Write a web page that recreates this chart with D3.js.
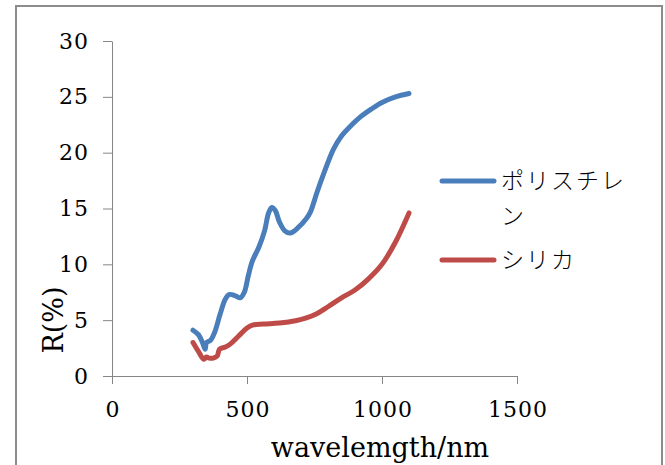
<!DOCTYPE html>
<html>
<head>
<meta charset="utf-8">
<script src="https://cdn.jsdelivr.net/npm/d3@7"></script>
<style>
    body { margin: 0; background: #fff; }
    .tick text { font-family: 'DejaVu Serif', serif; font-size: 22px; fill: #000; letter-spacing: 1px; }
    .axis path, .axis line { stroke: #868686; }
    .label { font-family: 'DejaVu Serif', serif; font-size: 27px; fill: #000; }
    .legend text { font-family: 'Noto Sans CJK JP', sans-serif; font-size: 23px; font-weight: 300; fill: #000; letter-spacing: 2px; }
</style>
</head>
<body>
<svg id="chart"></svg>
<script>
// Data.
const seriesNames = ['ポリスチレン', 'シリカ'];
const polystyreneX = [300, 320, 335, 345, 350, 365, 380, 400, 420, 435, 455, 475, 490, 505, 520, 545, 565, 580, 592, 605, 620, 640, 660, 690, 720, 735, 760, 790, 820, 850, 880, 920, 960, 1000, 1050, 1100];
const polystyreneY = [4.1, 3.7, 3.0, 2.4, 3.0, 3.2, 3.9, 5.5, 6.9, 7.3, 7.2, 7.0, 7.5, 9.0, 10.3, 11.6, 13.0, 14.6, 15.1, 14.8, 13.8, 13.0, 12.8, 13.3, 14.1, 14.7, 16.5, 18.5, 20.3, 21.5, 22.3, 23.2, 23.9, 24.5, 25.0, 25.3];
const silicaX = [300, 320, 340, 350, 360, 375, 390, 398, 420, 440, 470, 500, 520, 560, 620, 680, 720, 760, 800, 850, 900, 950, 1000, 1050, 1100];
const silicaY = [3.0, 2.2, 1.5, 1.7, 1.6, 1.6, 1.8, 2.4, 2.6, 2.9, 3.6, 4.3, 4.55, 4.65, 4.75, 4.95, 5.2, 5.6, 6.2, 7.0, 7.7, 8.7, 10.0, 12.0, 14.6];
const xTicks = [0, 500, 1000, 1500];
const yTicks = [0, 5, 10, 15, 20, 25, 30];
const colors = ['#4A7EBB', '#BE4B48'];

const width = 665, height = 465;
const marginLeft = 112, marginTop = 41, plotRight = 517, plotBottom = 376;

const svg = d3.select('#chart').attr('width', width).attr('height', height);

// Outer frame.
svg.append('rect')
    .attr('x', 16).attr('y', 6)
    .attr('width', 646).attr('height', 480)
    .attr('fill', 'none')
    .attr('stroke', '#8c8c8c')
    .attr('stroke-width', 2);

const x = d3.scaleLinear().domain([0, 1500]).range([marginLeft, plotRight]);
const y = d3.scaleLinear().domain([0, 30]).range([plotBottom, marginTop]);

// Axes.
svg.append('g')
    .attr('class', 'axis')
    .attr('transform', `translate(0, ${plotBottom})`)
    .call(d3.axisBottom(x).tickValues(xTicks).tickFormat(d3.format('d')).tickSize(8).tickPadding(17).tickSizeOuter(0))
    .call(g => g.selectAll('.tick text').attr('dx', '0.5px'));

svg.append('g')
    .attr('class', 'axis')
    .attr('transform', `translate(${marginLeft}, 0)`)
    .call(d3.axisLeft(y).tickValues(yTicks).tickFormat(d3.format('d')).tickSize(9).tickPadding(14).tickSizeOuter(0));

// Axis titles.
svg.append('text')
    .attr('class', 'label')
    .attr('x', 380).attr('y', 457)
    .attr('text-anchor', 'middle')
    .text('wavelemgth/nm');

svg.append('text')
    .attr('class', 'label')
    .attr('transform', 'translate(63, 320) rotate(-90)')
    .attr('text-anchor', 'middle')
    .text('R(%)');

// Lines.
const line = d3.line()
    .x(d => x(d[0]))
    .y(d => y(d[1]))
    .curve(d3.curveCatmullRom.alpha(0.5));

const series = [
    d3.zip(polystyreneX, polystyreneY),
    d3.zip(silicaX, silicaY),
];

svg.append('g')
    .selectAll('path')
    .data(series)
    .enter()
    .append('path')
    .attr('d', line)
    .attr('fill', 'none')
    .attr('stroke', (d, i) => colors[i])
    .attr('stroke-width', 5)
    .attr('stroke-linecap', 'round')
    .attr('stroke-linejoin', 'round');

// Legend.
const legend = svg.append('g').attr('class', 'legend');
const legendY = [181, 260];

legend.selectAll('line')
    .data(seriesNames)
    .enter()
    .append('line')
    .attr('x1', 442).attr('x2', 494)
    .attr('y1', (d, i) => legendY[i]).attr('y2', (d, i) => legendY[i])
    .attr('stroke', (d, i) => colors[i])
    .attr('stroke-width', 5)
    .attr('stroke-linecap', 'round');

// First name wraps onto a second line in the original.
const first = legend.append('text').attr('x', 501).attr('y', 189);
first.append('tspan').attr('x', 501).text(seriesNames[0].slice(0, 5));
first.append('tspan').attr('x', 501).attr('dy', 35).text(seriesNames[0].slice(5));

legend.append('text')
    .attr('x', 501).attr('y', 268)
    .text(seriesNames[1]);
</script>
</body>
</html>
